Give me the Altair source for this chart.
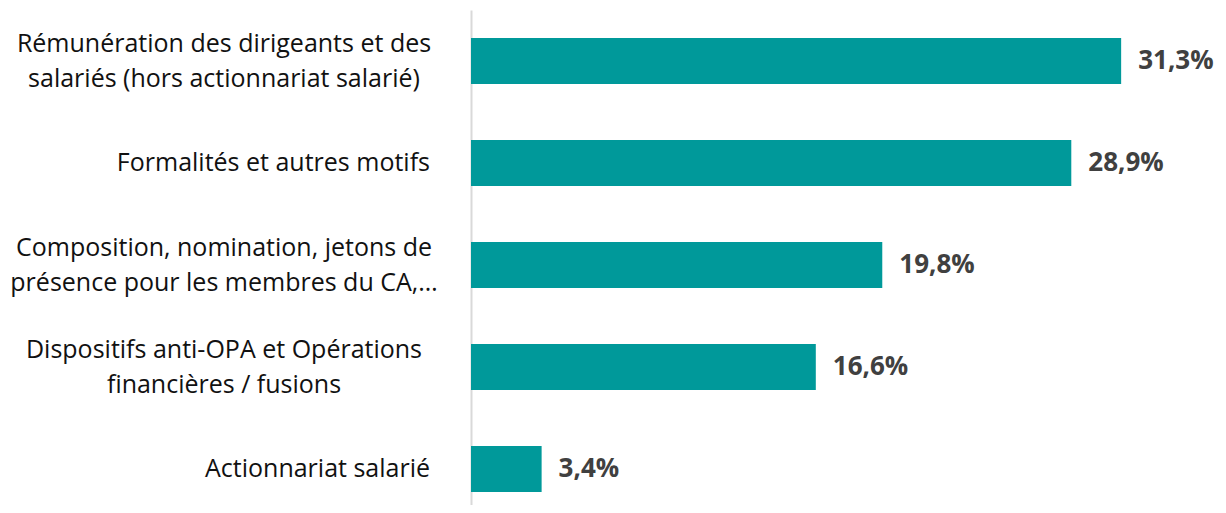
import altair as alt
import pandas as pd

categories = [
    "Rémunération des dirigeants et des\nsalariés (hors actionnariat salarié)",
    "Formalités et autres motifs",
    "Composition, nomination, jetons de\nprésence pour les membres du CA,…",
    "Dispositifs anti-OPA et Opérations\nfinancières / fusions",
    "Actionnariat salarié",
]
values = [31.3, 28.9, 19.8, 16.6, 3.4]

df = pd.DataFrame({"cat": categories, "val": values})
df["label"] = [f"{v:.1f}".replace(".", ",") + "%" for v in values]
df["multi"] = ["\n" in c for c in categories]

FONT = "Open Sans"

y_enc = alt.Y(
    "cat:N",
    sort=categories,
    scale=alt.Scale(paddingInner=0.549, paddingOuter=0.2, align=0.683),
    axis=alt.Axis(labels=False, ticks=False, domain=True, domainColor="#D9D9D9",
                  domainWidth=2, title=None, grid=False),
)
x_enc = alt.X("val:Q", scale=alt.Scale(domain=[0, 35]), axis=None)

base = alt.Chart(df)

bars = base.mark_bar(color="#00999A").encode(x=x_enc, y=y_enc)

vals = base.mark_text(align="left", baseline="middle", dx=17, font=FONT,
                      fontSize=26, fontWeight="bold", color="#404040").encode(
    x=x_enc, y=y_enc, text="label:N")

lab_single = base.transform_filter(~alt.datum.multi).mark_text(
    align="right", baseline="middle", dx=-41, font=FONT, fontSize=25,
    color="#111111").encode(x=alt.datum(0), y=y_enc, text="cat:N")

lab_multi = base.transform_filter(alt.datum.multi).mark_text(
    align="center", baseline="middle", dx=-247, dy=-17, font=FONT, fontSize=25,
    lineBreak="\n", lineHeight=35, color="#111111").encode(
    x=alt.datum(0), y=y_enc, text="cat:N")

chart = alt.layer(bars, vals, lab_single, lab_multi).properties(
    width=727, height=495,
    autosize=alt.AutoSizeParams(type="none"),
    padding={"left": 463, "top": 2, "right": 20, "bottom": 0},
).configure_view(stroke=None)

chart.save("out.html", embed_options={"renderer": "svg", "actions": False})
